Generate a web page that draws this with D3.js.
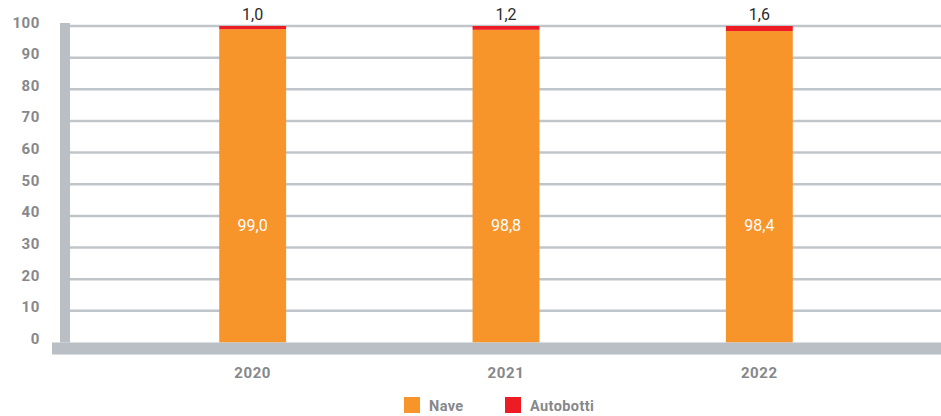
<!DOCTYPE html>
<html>
<head>
<meta charset="utf-8">
<script src="https://cdn.jsdelivr.net/npm/d3@7"></script>
<style>
  body { margin: 0; background: #fff; }
  svg { display: block; font-family: Roboto, "DejaVu Sans", sans-serif; }
  .tick-label { fill: #86888b; font-weight: 700; font-size: 15px; letter-spacing: 0.6px; }
  .legend-label { fill: #86888b; font-weight: 700; font-size: 14.5px; letter-spacing: 0.4px; }
</style>
</head>
<body>
<div id="chart"></div>
<script>
(function() {

var years = ["2020", "2021", "2022"];
var nave = [99.0, 98.8, 98.4];
var autobotti = [1.0, 1.2, 1.6];
var yTicks = [0, 10, 20, 30, 40, 50, 60, 70, 80, 90, 100];
var seriesNames = ["Nave", "Autobotti"];

var width = 941, height = 416;
var grey = "#b9bfc5", orange = "#f7942a", red = "#ed1c24";

var svg = d3.select("#chart").append("svg")
    .attr("width", width)
    .attr("height", height);

var y = d3.scaleLinear()
    .domain([0, 100])
    .range([342.5, 26]);

var x = d3.scaleBand()
    .domain(years)
    .range([126, 886])
    .paddingInner(0.736)
    .paddingOuter(0.368);

// grid lines
svg.append("g")
  .selectAll("line")
  .data(yTicks.filter(function(d) { return d > 0; }))
  .enter().append("line")
    .attr("x1", 70)
    .attr("x2", width)
    .attr("y1", function(d) { return y(d); })
    .attr("y2", function(d) { return y(d); })
    .style("stroke", "#c0c5ca")
    .style("stroke-width", 2.5);

// y axis labels
svg.append("g")
  .selectAll("text")
  .data(yTicks)
  .enter().append("text")
    .attr("class", "tick-label")
    .attr("x", 40)
    .attr("y", function(d) { return y(d); })
    .attr("dy", "0.1em")
    .attr("text-anchor", "end")
    .text(function(d) { return d; });

var data = years.map(function(yr, i) {
  return { year: yr, nave: nave[i], autobotti: autobotti[i] };
});

// orange segments
svg.selectAll(".bar-nave")
    .data(data)
  .enter().append("rect")
    .attr("class", "bar-nave")
    .attr("x", function(d) { return x(d.year); })
    .attr("width", x.bandwidth())
    .attr("y", function(d) { return y(d.nave); })
    .attr("height", function(d) { return y(0) - y(d.nave); })
    .style("fill", orange);

// red segments
svg.selectAll(".bar-auto")
    .data(data)
  .enter().append("rect")
    .attr("class", "bar-auto")
    .attr("x", function(d) { return x(d.year); })
    .attr("width", x.bandwidth())
    .attr("y", function(d) { return y(d.nave + d.autobotti); })
    .attr("height", function(d) { return y(d.nave) - y(d.nave + d.autobotti); })
    .style("fill", red);

var fmt = function(v) { return v.toFixed(1).replace(".", ","); };

// value labels
svg.selectAll(".lab-auto")
    .data(data)
  .enter().append("text")
    .attr("x", function(d) { return x(d.year) + x.bandwidth() / 2; })
    .attr("y", 20)
    .attr("text-anchor", "middle")
    .style("font-size", "16px")
    .style("fill", "#2b2b2b")
    .text(function(d) { return fmt(d.autobotti); });

svg.selectAll(".lab-nave")
    .data(data)
  .enter().append("text")
    .attr("x", function(d) { return x(d.year) + x.bandwidth() / 2; })
    .attr("y", y(37))
    .attr("dy", "0.35em")
    .attr("text-anchor", "middle")
    .style("font-size", "16px")
    .style("fill", "#fff")
    .text(function(d) { return fmt(d.nave); });

// axis bars
svg.append("rect")
    .attr("x", 60).attr("y", 23)
    .attr("width", 10).attr("height", y(0) - 23)
    .style("fill", grey);

svg.append("rect")
    .attr("x", 52).attr("y", y(0))
    .attr("width", width - 52).attr("height", 12)
    .style("fill", grey);

// year labels
svg.selectAll(".lab-year")
    .data(years)
  .enter().append("text")
    .attr("class", "tick-label")
    .attr("x", function(d) { return x(d) + x.bandwidth() / 2; })
    .attr("y", 378)
    .attr("text-anchor", "middle")
    .text(function(d) { return d; });

// legend
var legend = svg.append("g")
  .selectAll("g")
  .data(seriesNames)
  .enter().append("g")
    .attr("transform", function(d, i) { return "translate(" + (404 + i * 101) + ",397)"; });

legend.append("rect")
    .attr("width", 16).attr("height", 16)
    .style("fill", function(d, i) { return i === 0 ? orange : red; });

legend.append("text")
    .attr("class", "legend-label")
    .attr("x", 25)
    .attr("y", 14)
    .text(function(d) { return d; });

})();
</script>
</body>
</html>
